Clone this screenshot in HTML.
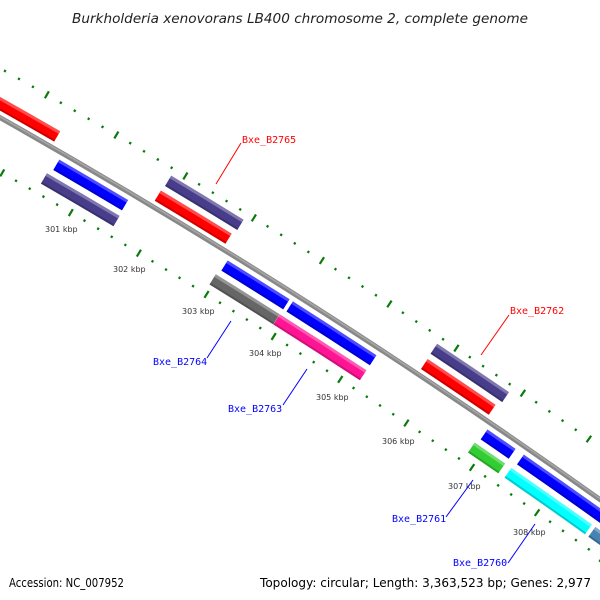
<!DOCTYPE html>
<html><head><meta charset="utf-8"><style>
html,body{margin:0;padding:0;background:#fff;width:600px;height:600px;overflow:hidden;}
svg{display:block;}
.lbl{font-family:"DejaVu Sans","Liberation Sans",sans-serif;font-size:8px;fill:#333;}
.gl{font-family:"DejaVu Sans Mono","Liberation Mono",monospace;font-size:10px;}
</style></head><body>
<svg id="s" width="600" height="600" viewBox="0 0 600 600" xmlns="http://www.w3.org/2000/svg">
<g id="ticks"></g>
<g id="feat"></g>
<text x="72" y="23" textLength="456" lengthAdjust="spacingAndGlyphs" style="font-family:'DejaVu Sans','Liberation Sans',sans-serif;font-style:italic;font-size:13px;fill:#222">Burkholderia xenovorans LB400 chromosome 2, complete genome</text>
<text x="9" y="587" textLength="115" lengthAdjust="spacingAndGlyphs" style="font-family:'DejaVu Sans','Liberation Sans',sans-serif;font-size:12px;fill:#000">Accession: NC_007952</text>
<text x="260" y="587" textLength="331" lengthAdjust="spacingAndGlyphs" style="font-family:'DejaVu Sans','Liberation Sans',sans-serif;font-size:12px;fill:#000">Topology: circular; Length: 3,363,523 bp; Genes: 2,977</text>
<text class="lbl" x="45" y="232">301 kbp</text>
<text class="lbl" x="113" y="272">302 kbp</text>
<text class="lbl" x="182" y="314">303 kbp</text>
<text class="lbl" x="249" y="356">304 kbp</text>
<text class="lbl" x="316" y="400">305 kbp</text>
<text class="lbl" x="382" y="444">306 kbp</text>
<text class="lbl" x="448" y="489">307 kbp</text>
<text class="lbl" x="513" y="535">308 kbp</text>
<g stroke-width="1">
<line x1="216" y1="184" x2="241" y2="143" stroke="#f00"/>
<line x1="207" y1="358" x2="231" y2="321" stroke="#00f"/>
<line x1="283" y1="405" x2="307" y2="369" stroke="#00f"/>
<line x1="481" y1="355" x2="509" y2="315" stroke="#f00"/>
<line x1="446" y1="517" x2="473" y2="480" stroke="#00f"/>
<line x1="508" y1="563" x2="535" y2="524" stroke="#00f"/>
</g>
<text class="gl" x="242" y="143" fill="#f00">Bxe_B2765</text>
<text class="gl" x="153" y="365" fill="#00f">Bxe_B2764</text>
<text class="gl" x="228" y="412" fill="#00f">Bxe_B2763</text>
<text class="gl" x="510" y="314" fill="#f00">Bxe_B2762</text>
<text class="gl" x="392" y="522" fill="#00f">Bxe_B2761</text>
<text class="gl" x="453" y="566" fill="#00f">Bxe_B2760</text>
</svg>
<script>
(function(){
var NS="http://www.w3.org/2000/svg";
var cx=-3357,cy=6053;
function ang(x,y){return Math.atan2(y-cy,x-cx);}
function pt(r,a){return [cx+r*Math.cos(a),cy+r*Math.sin(a)];}
function el(p,tag,attrs){var e=document.createElementNS(NS,tag);for(var k in attrs)e.setAttribute(k,attrs[k]);p.appendChild(e);return e;}
function band(r1,r2,a1,a2){
 var p1=pt(r2,a1),p2=pt(r2,a2),p3=pt(r1,a2),p4=pt(r1,a1);
 return "M"+p1+" A"+r2+","+r2+" 0 0 1 "+p2+" L"+p3+" A"+r1+","+r1+" 0 0 0 "+p4+"Z";
}
var tg=document.getElementById("ticks"),fg=document.getElementById("feat");
var a0=ang(-50,80),aE=ang(650,540);
el(fg,"path",{d:band(6816.5,6821.5,a0,aE),fill:"#888"});
el(fg,"path",{d:band(6819,6820.5,a0,aE),fill:"#a6a6a6"});
var a301=Math.atan2(-5839,3427),step=0.01170;
for(var i=0;i<=60;i++){
 var k=299+i*0.2,a=a301+(k-301)*step,maj=(i%5==0);
 [6862,6772].forEach(function(r){
  var d=maj?4:1.2,p1=pt(r-d,a),p2=pt(r+d,a);
  el(tg,"line",{x1:p1[0],y1:p1[1],x2:p2[0],y2:p2[1],stroke:"#0a7a0a","stroke-width":2.2});
 });
}
var O2=6849,O1=6831,I1=6806,I2=6788;
var F=[
[-20,92,58,135,O1,"#ff0000"],
[55,167,124,207,I1,"#0000ff"],
[43,180,116,222,I2,"#483d8b"],
[168,181,241,224,O2,"#483d8b"],
[157,197,229,238,O1,"#ff0000"],
[223,268,286,305,I1,"#0000ff"],
[211,282,276,320,I2,"#666666"],
[288,309,372,362,I1,"#0000ff"],
[275,322,362,377,I2,"#ff1493"],
[433,350,505,398,O2,"#483d8b"],
[423,366,492,410,O1,"#ff0000"],
[483,436,512,454,I1,"#0000ff"],
[469,451,500,471,I2,"#32cd32"],
[518,463,640,545,I1,"#0000ff"],
[505,477,588,530,I2,"#00ffff"],
[591,533,640,565,I2,"#4682b4"]
];
F.forEach(function(f){
 var a1=ang(f[0],f[1]),a2=ang(f[2],f[3]),r=f[4],w=6;
 el(fg,"path",{d:band(r-w,r+w,a1,a2),fill:f[5]});
 el(fg,"path",{d:band(r+w-3,r+w,a1,a2),fill:"#fff","fill-opacity":"0.3"});
 el(fg,"path",{d:band(r-w,r-w+2,a1,a2),fill:"#000","fill-opacity":"0.2"});
});
})();
</script>
</body></html>
